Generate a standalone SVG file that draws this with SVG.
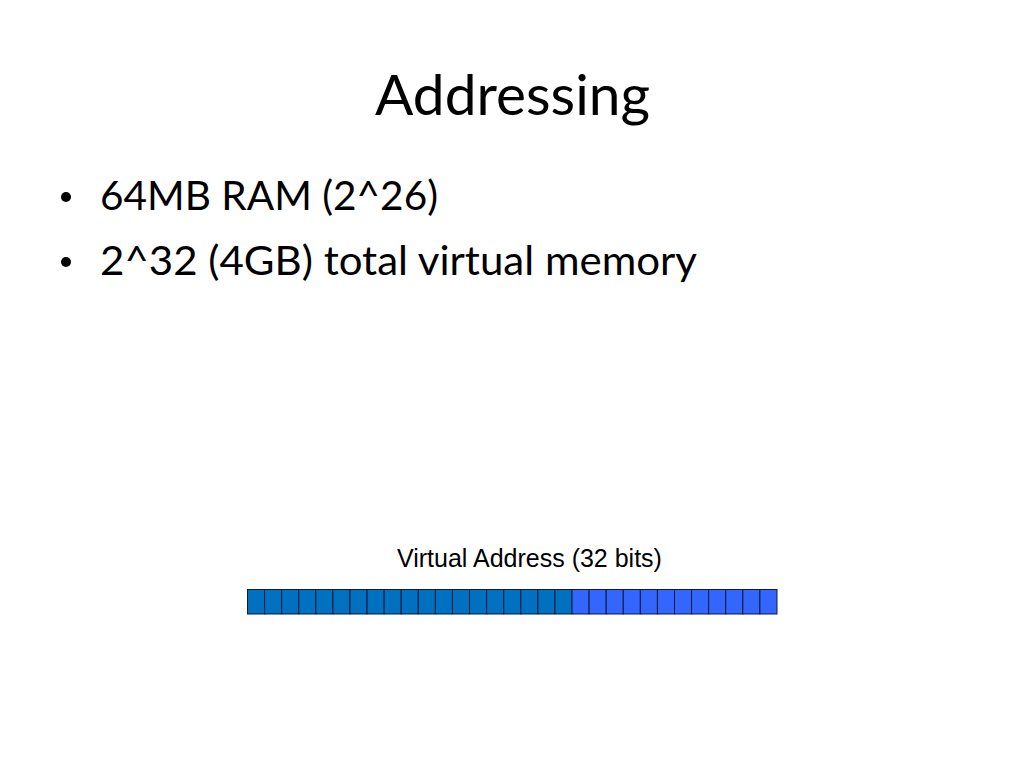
<svg xmlns="http://www.w3.org/2000/svg" width="1024" height="768" viewBox="0 0 1024 768">
<style>
.cal{font-family:Lato,"Open Sans","Liberation Sans",sans-serif;fill:#000}
.title{font-size:57px}
.bul{font-size:40px}
.lbl{font-family:"Liberation Sans",Arial,sans-serif;font-size:25px;fill:#000}
.d{fill:#0070C0;stroke:#0A1A3A;stroke-width:1}
.l{fill:#3366FF;stroke:#0A1A3A;stroke-width:1}
</style>
<rect width="1024" height="768" fill="#fff"/>
<g id="title">
<text class="cal title" x="375" y="115" textLength="275" lengthAdjust="spacingAndGlyphs">Addressing</text>
</g>
<g id="bullets">
<circle cx="66" cy="197" r="5" fill="#000"/>
<text class="cal bul" x="100" y="210" textLength="338" lengthAdjust="spacingAndGlyphs">64MB RAM (2^26)</text>
<circle cx="66" cy="262" r="5" fill="#000"/>
<text class="cal bul" x="100" y="275" textLength="597" lengthAdjust="spacingAndGlyphs">2^32 (4GB) total virtual memory</text>
</g>
<g id="label">
<text class="lbl" x="397" y="567">Virtual Address (32 bits)</text>
</g>
<g id="bits">
<rect class="d" x="247.5" y="589.5" width="17.08" height="24.5"/>
<rect class="d" x="264.58" y="589.5" width="17.08" height="24.5"/>
<rect class="d" x="281.66" y="589.5" width="17.08" height="24.5"/>
<rect class="d" x="298.74" y="589.5" width="17.08" height="24.5"/>
<rect class="d" x="315.82" y="589.5" width="17.08" height="24.5"/>
<rect class="d" x="332.9" y="589.5" width="17.08" height="24.5"/>
<rect class="d" x="349.98" y="589.5" width="17.08" height="24.5"/>
<rect class="d" x="367.06" y="589.5" width="17.08" height="24.5"/>
<rect class="d" x="384.14" y="589.5" width="17.08" height="24.5"/>
<rect class="d" x="401.22" y="589.5" width="17.08" height="24.5"/>
<rect class="d" x="418.3" y="589.5" width="17.08" height="24.5"/>
<rect class="d" x="435.38" y="589.5" width="17.08" height="24.5"/>
<rect class="d" x="452.46" y="589.5" width="17.08" height="24.5"/>
<rect class="d" x="469.54" y="589.5" width="17.08" height="24.5"/>
<rect class="d" x="486.62" y="589.5" width="17.08" height="24.5"/>
<rect class="d" x="503.7" y="589.5" width="17.08" height="24.5"/>
<rect class="d" x="520.78" y="589.5" width="17.08" height="24.5"/>
<rect class="d" x="537.86" y="589.5" width="17.08" height="24.5"/>
<rect class="d" x="554.94" y="589.5" width="17.08" height="24.5"/>
<rect class="l" x="572.02" y="589.5" width="17.08" height="24.5"/>
<rect class="l" x="589.1" y="589.5" width="17.08" height="24.5"/>
<rect class="l" x="606.18" y="589.5" width="17.08" height="24.5"/>
<rect class="l" x="623.26" y="589.5" width="17.08" height="24.5"/>
<rect class="l" x="640.34" y="589.5" width="17.08" height="24.5"/>
<rect class="l" x="657.42" y="589.5" width="17.08" height="24.5"/>
<rect class="l" x="674.5" y="589.5" width="17.08" height="24.5"/>
<rect class="l" x="691.58" y="589.5" width="17.08" height="24.5"/>
<rect class="l" x="708.66" y="589.5" width="17.08" height="24.5"/>
<rect class="l" x="725.74" y="589.5" width="17.08" height="24.5"/>
<rect class="l" x="742.82" y="589.5" width="17.08" height="24.5"/>
<rect class="l" x="759.9" y="589.5" width="17.08" height="24.5"/>
</g>
</svg>
